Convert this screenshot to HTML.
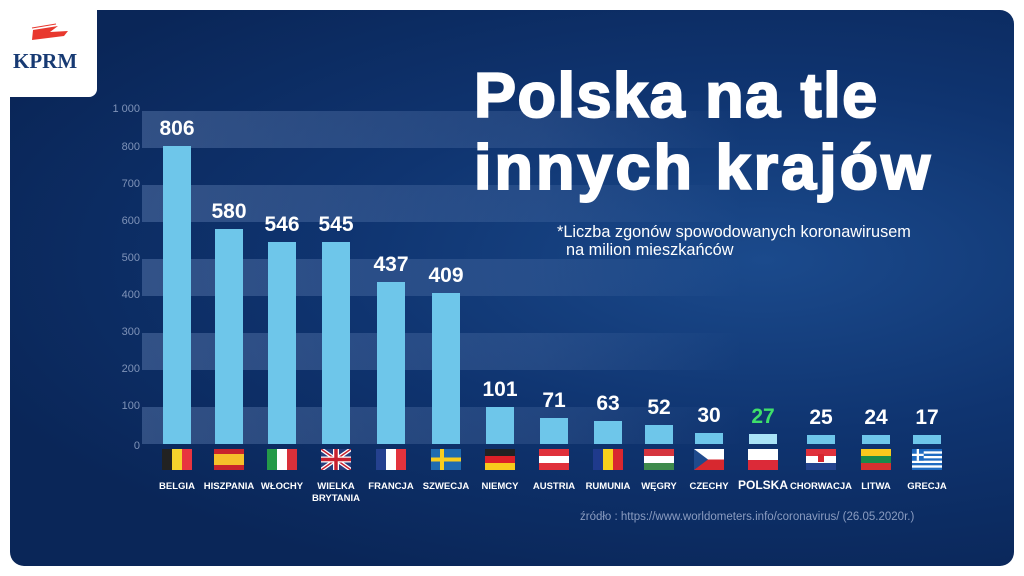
<!DOCTYPE html>
<html><head><meta charset="utf-8"><style>
*{margin:0;padding:0;box-sizing:border-box}
body{width:1024px;height:576px;background:#fff;position:relative;overflow:hidden;font-family:"Liberation Sans",sans-serif}
#panel{position:absolute;left:10px;top:10px;width:1004px;height:556px;border-radius:14px;background:radial-gradient(ellipse at 75% 45%,#1b4a8c 0%,#0f3470 40%,#0a2658 80%);overflow:hidden}
#logo{position:absolute;left:0;top:0;width:97px;height:97px;background:#fff;border-bottom-right-radius:8px}
.band{position:absolute;left:142px;width:800px;height:37px;background:linear-gradient(90deg,rgba(120,150,200,0.35),rgba(120,150,200,0.18) 50%,rgba(120,150,200,0) 75%)}
.tick{position:absolute;width:40px;left:100px;text-align:right;color:#7f93b8;font-size:11px;font-family:"Liberation Sans Narrow","Liberation Sans",sans-serif}
.bar{position:absolute;width:28px;background:#6ec6ea}
.val{position:absolute;width:80px;text-align:center;color:#fff;font-weight:bold;font-size:21px;font-family:"Liberation Sans Narrow","Liberation Sans",sans-serif}
.flag{position:absolute;width:30px;height:21px;top:449px;overflow:hidden}
.lab{position:absolute;width:90px;text-align:center;color:#fff;font-weight:bold;font-size:9.5px;top:481px;line-height:12px;font-family:"Liberation Sans Narrow","Liberation Sans",sans-serif}
.h{position:absolute;left:0;right:0}
.v{position:absolute;top:0;bottom:0}
</style></head><body>
<div id="panel"></div>
<div id="logo">
<svg style="position:absolute;left:28px;top:22px" width="42" height="22"><path d="M5 8 L30 4 L22 10 L40 9 L36 14 L4 18 Z" fill="#e8382e"/><path d="M4 6 L28 2" stroke="#e8382e" stroke-width="1"/></svg>
<div style="position:absolute;left:13px;top:49px;font-family:'Liberation Serif',serif;font-size:21px;font-weight:bold;color:#173a73">KPRM</div>
</div>
<div class="band" style="top:111px"></div>
<div class="band" style="top:185px"></div>
<div class="band" style="top:259px"></div>
<div class="band" style="top:333px"></div>
<div class="band" style="top:407px"></div>
<div class="tick" style="top:103px">1 000</div>
<div class="tick" style="top:141px">800</div>
<div class="tick" style="top:178px">700</div>
<div class="tick" style="top:215px">600</div>
<div class="tick" style="top:252px">500</div>
<div class="tick" style="top:289px">400</div>
<div class="tick" style="top:326px">300</div>
<div class="tick" style="top:363px">200</div>
<div class="tick" style="top:400px">100</div>
<div class="tick" style="top:440px">0</div>
<div style="position:absolute;left:474px;top:60px;color:#fff;font-weight:bold;font-size:63px;line-height:72px;letter-spacing:1.5px;-webkit-text-stroke:2px #fff">Polska na tle<br><span style="letter-spacing:3px">innych krajów</span></div>
<div style="position:absolute;left:557px;top:223px;color:#fff;font-size:16.3px;line-height:18px">*Liczba zgonów spowodowanych koronawirusem<br>&nbsp;&nbsp;na milion mieszkańców</div>
<div style="position:absolute;left:580px;top:511px;color:#8a9cc0;font-size:11.5px">źródło : https://www.worldometers.info/coronavirus/ (26.05.2020r.)</div>
<div id="chart"></div>
<script>
var d=[["BELGIA",806,177,"be"],["HISZPANIA",580,229,"es"],["WŁOCHY",546,282,"it"],["WIELKA<br>BRYTANIA",545,336,"gb"],["FRANCJA",437,391,"fr"],["SZWECJA",409,446,"se"],["NIEMCY",101,500,"de"],["AUSTRIA",71,554,"at"],["RUMUNIA",63,608,"ro"],["WĘGRY",52,659,"hu"],["CZECHY",30,709,"cz"],["POLSKA",27,763,"pl"],["CHORWACJA",25,821,"hr"],["LITWA",24,876,"lt"],["GRECJA",17,927,"gr"]];
function fl(c){
 var h=function(a){return '<div class="h" style="top:0;height:33.4%;background:'+a[0]+'"></div><div class="h" style="top:33.3%;height:33.4%;background:'+a[1]+'"></div><div class="h" style="top:66.6%;height:33.4%;background:'+a[2]+'"></div>'};
 var v=function(a){return '<div class="v" style="left:0;width:33.4%;background:'+a[0]+'"></div><div class="v" style="left:33.3%;width:33.4%;background:'+a[1]+'"></div><div class="v" style="left:66.6%;width:33.4%;background:'+a[2]+'"></div>'};
 switch(c){
 case"be":return v(["#222","#f5d22c","#e8343f"]);
 case"es":return '<div class="h" style="top:0;height:100%;background:#c8242c"></div><div class="h" style="top:25%;height:50%;background:#f5c02a"></div>';
 case"it":return v(["#249a48","#fff","#d9303a"]);
 case"gb":return '<svg width="30" height="21"><rect width="30" height="21" fill="#253d7e"/><path d="M0 0L30 21M30 0L0 21" stroke="#fff" stroke-width="4"/><path d="M0 0L30 21M30 0L0 21" stroke="#c8202f" stroke-width="1.5"/><path d="M15 0V21M0 10.5H30" stroke="#fff" stroke-width="6"/><path d="M15 0V21M0 10.5H30" stroke="#c8202f" stroke-width="3.5"/></svg>';
 case"fr":return v(["#25418f","#fff","#e3333d"]);
 case"se":return '<svg width="30" height="21"><rect width="30" height="21" fill="#1f6bb0"/><path d="M11 0V21M0 10.5H30" stroke="#f8cd1d" stroke-width="4"/></svg>';
 case"de":return h(["#222","#dd2027","#f8cb1c"]);
 case"at":return h(["#e0313b","#fff","#e0313b"]);
 case"ro":return v(["#1f3a8c","#f8d01c","#d9272f"]);
 case"hu":return h(["#d6353e","#fff","#3e8a4c"]);
 case"cz":return '<svg width="30" height="21"><rect width="30" height="10.5" fill="#fff"/><rect y="10.5" width="30" height="10.5" fill="#d7282f"/><path d="M0 0L14 10.5L0 21Z" fill="#1f4a8c"/></svg>';
 case"pl":return '<div class="h" style="top:0;height:50%;background:#fff"></div><div class="h" style="top:50%;height:50%;background:#dc2a38"></div>';
 case"hr":return h(["#e0313b","#fff","#24448f"])+'<div style="position:absolute;left:12px;top:5px;width:6px;height:8px;background:#d6262f"></div>';
 case"lt":return h(["#f8c81d","#198a4a","#d5302f"]);
 case"gr":return '<svg width="30" height="21"><rect width="30" height="21" fill="#fff"/><g fill="#1f6bc1"><rect y="0" width="30" height="2.33"/><rect y="4.67" width="30" height="2.33"/><rect y="9.33" width="30" height="2.33"/><rect y="14" width="30" height="2.33"/><rect y="18.67" width="30" height="2.33"/><rect width="11.7" height="11.7"/></g><path d="M5.85 0V11.7M0 5.85H11.7" stroke="#fff" stroke-width="2.3"/></svg>';
 }}
var o="";
d.forEach(function(r){
 var hgt=Math.max(r[1]*0.37,9), top=444-hgt;
 var col=r[3]=="pl"?"#a9e3f7":"#6ec6ea";
 o+='<div class="bar" style="left:'+(r[2]-14)+'px;top:'+top+'px;height:'+hgt+'px;background:'+col+'"></div>';
 o+='<div class="val" style="left:'+(r[2]-40)+'px;top:'+(top-29)+'px;color:'+(r[3]=="pl"?"#3fe06a":"#fff")+'">'+r[1]+'</div>';
 o+='<div class="flag" style="left:'+(r[2]-15)+'px">'+fl(r[3])+'</div>';
 o+='<div class="lab" style="left:'+(r[2]-45)+'px;'+(r[3]=="pl"?"font-size:12px;top:479px":"")+'">'+r[0]+'</div>';
});
document.getElementById("chart").innerHTML=o;
</script>
</body></html>
